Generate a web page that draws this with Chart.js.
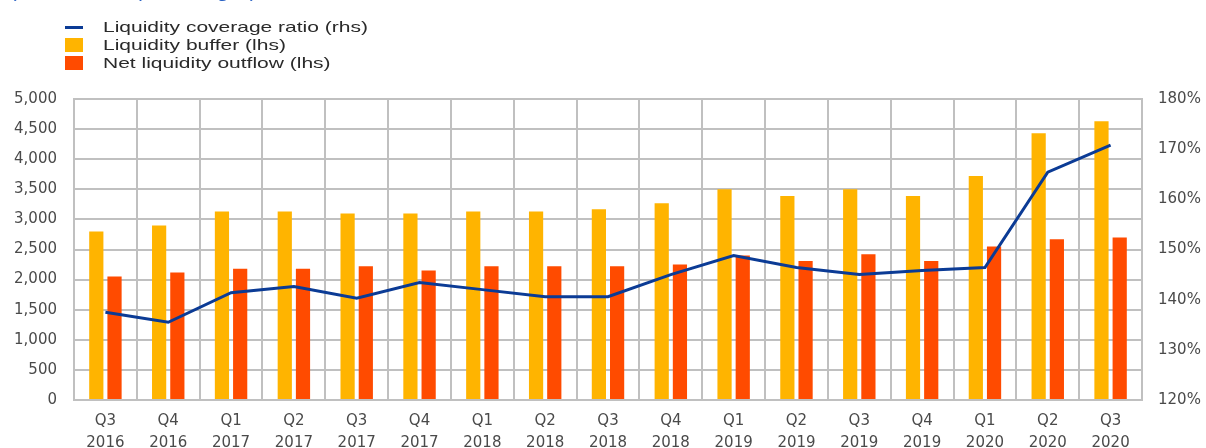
<!DOCTYPE html>
<html lang="en">
<head>
    <meta charset="UTF-8">
    <title>Liquidity coverage ratio</title>
    <script src="https://cdn.jsdelivr.net/npm/chart.js"></script>
    <style>
        body { margin: 0; background: #fff; font-family: "Liberation Sans", Arial, sans-serif; }
        .wrap { position: relative; width: 1206px; height: 448px; overflow: hidden; }
        .note { position: absolute; left: 10px; top: -16px; font-size: 15px; color: #2a62c4;
                transform: scaleX(1.35); transform-origin: left; }
        .legend { position: absolute; left: 65px; top: 18px; font-size: 15px; color: #2a2a2a; line-height: 18px; }
        .legend div { display: flex; align-items: center; height: 18px; }
        .legend span.mk { display: inline-block; width: 18px; margin-right: 20px; }
        .legend span.tx { display: inline-block; transform: scaleX(1.4); transform-origin: left; }
    </style>
</head>
<body>
    <div class="wrap">
        <canvas id="chart" width="1206" height="448"></canvas>
        <div class="note">(EUR billions; percentages)</div>
        <div class="legend">
            <div><span class="mk" style="height:3px;background:#0b3b95"></span><span class="tx">Liquidity coverage ratio (rhs)</span></div>
            <div><span class="mk" style="height:14px;background:#ffb400"></span><span class="tx">Liquidity buffer (lhs)</span></div>
            <div><span class="mk" style="height:14px;background:#ff4b00"></span><span class="tx">Net liquidity outflow (lhs)</span></div>
        </div>
    </div>

    <script>
        const quarters = [
            ["Q3", "2016"], ["Q4", "2016"], ["Q1", "2017"], ["Q2", "2017"], ["Q3", "2017"], ["Q4", "2017"],
            ["Q1", "2018"], ["Q2", "2018"], ["Q3", "2018"], ["Q4", "2018"], ["Q1", "2019"], ["Q2", "2019"],
            ["Q3", "2019"], ["Q4", "2019"], ["Q1", "2020"], ["Q2", "2020"], ["Q3", "2020"]
        ];
        const liquidityBuffer = [2800, 2900, 3130, 3130, 3100, 3100, 3130, 3130, 3170, 3270, 3500, 3390, 3500, 3390, 3720, 4430, 4630];
        const netOutflow = [2050, 2120, 2180, 2180, 2220, 2150, 2220, 2220, 2220, 2250, 2400, 2310, 2420, 2310, 2550, 2670, 2700];
        const lcr = [137.5, 135.5, 141.4, 142.6, 140.3, 143.4, 142.0, 140.6, 140.6, 145.0, 148.8, 146.4, 145.0, 145.8, 146.4, 165.4, 170.8];

        const gridColor = "#c0c0c0";
        const tickColor = "#4a4a4a";
        const tickFont = { family: "DejaVu Sans", size: 15, lineHeight: 1.45 };

        new Chart(document.getElementById("chart"), {
            type: "bar",
            data: {
                labels: quarters,
                datasets: [
                    { type: "line", label: "Liquidity coverage ratio (rhs)", data: lcr, yAxisID: "y1",
                      borderColor: "#0b3b95", borderWidth: 3, pointRadius: 0, tension: 0, order: 0 },
                    { label: "Liquidity buffer (lhs)", data: liquidityBuffer, backgroundColor: "#ffb400",
                      categoryPercentage: 0.58, barPercentage: 0.78, order: 1 },
                    { label: "Net liquidity outflow (lhs)", data: netOutflow, backgroundColor: "#ff4b00",
                      categoryPercentage: 0.58, barPercentage: 0.78, order: 1 }
                ]
            },
            options: {
                responsive: false,
                animation: false,
                layout: { padding: { top: 99, left: 0, right: 0, bottom: 0 } },
                plugins: { legend: { display: false }, tooltip: { enabled: false } },
                scales: {
                    x: {
                        grid: { offset: true, color: gridColor, lineWidth: 2, drawTicks: false },
                        border: { color: gridColor, width: 2 },
                        ticks: { color: tickColor, font: tickFont, padding: 10, maxRotation: 0 },
                        afterFit: (s) => { s.height = 48; }
                    },
                    y: {
                        position: "left", min: 0, max: 5000,
                        grid: { color: gridColor, lineWidth: 2, drawTicks: false },
                        border: { color: gridColor, width: 2 },
                        ticks: { stepSize: 500, color: tickColor, font: tickFont, padding: 17,
                                 callback: (v) => v.toLocaleString("en-US") },
                        afterFit: (s) => { s.width = 74; }
                    },
                    y1: {
                        position: "right", min: 120, max: 180,
                        grid: { display: false, drawTicks: false },
                        border: { color: gridColor, width: 2 },
                        ticks: { stepSize: 10, color: tickColor, font: tickFont, padding: 16,
                                 callback: (v) => v + "%" },
                        afterFit: (s) => { s.width = 64; }
                    }
                }
            }
        });
    </script>
</body>
</html>
